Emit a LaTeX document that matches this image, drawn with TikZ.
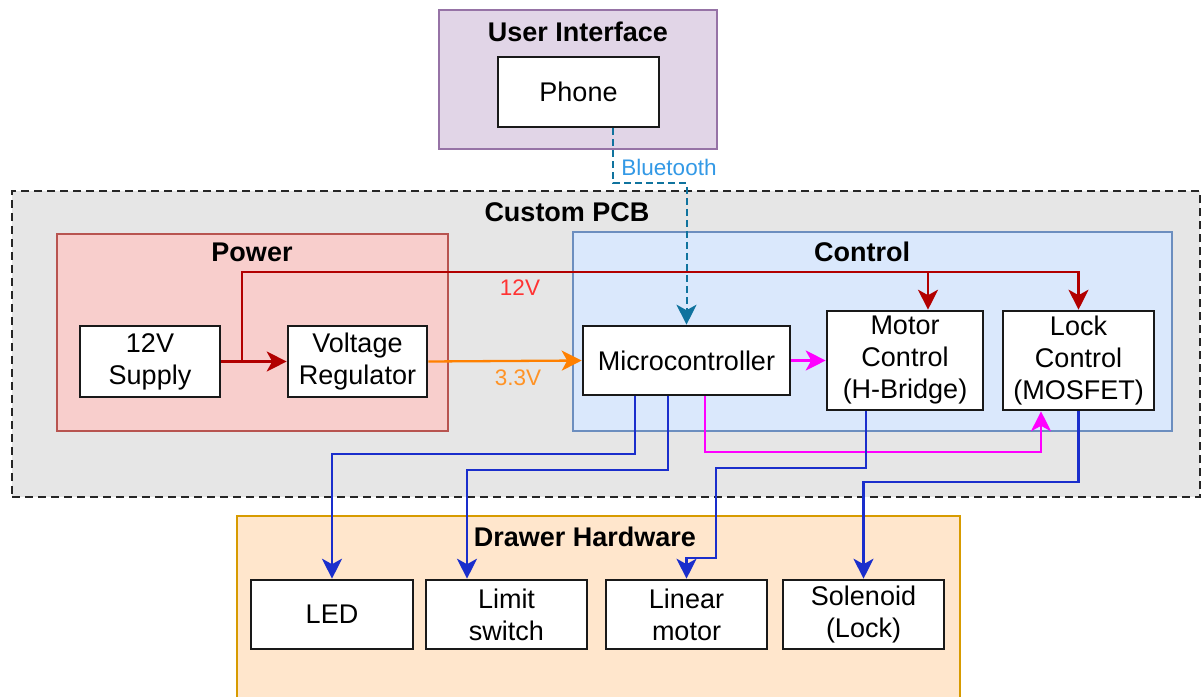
\documentclass[tikz,border=0pt]{standalone}
\usepackage{fontspec}
\setmainfont{Liberation Sans}
\usetikzlibrary{arrows.meta,calc}

\definecolor{uifill}{HTML}{E1D5E7}  \definecolor{uiline}{HTML}{9673A6}
\definecolor{pcbfill}{HTML}{E6E6E6}
\definecolor{pwrfill}{HTML}{F8CECC} \definecolor{pwrline}{HTML}{B85450}
\definecolor{ctlfill}{HTML}{DAE8FC} \definecolor{ctlline}{HTML}{6C8EBF}
\definecolor{hwfill}{HTML}{FFE6CC}  \definecolor{hwline}{HTML}{D79B00}
\definecolor{wred}{HTML}{B20000}    \definecolor{lred}{HTML}{FF3333}
\definecolor{worange}{HTML}{FF8000} \definecolor{lorange}{HTML}{FF9326}
\definecolor{wmag}{HTML}{FF00FF}
\definecolor{wblue}{HTML}{1A2ECC}
\definecolor{btline}{HTML}{10739E}  \definecolor{btlabel}{HTML}{3399E6}

\tikzset{
  blk/.style={draw=black!90, line width=2.6pt, fill=white, align=center,
    inner sep=0pt, font=\fontsize{27}{32}\selectfont},
  group/.style={line width=2pt, inner sep=0pt},
  grouptitle/.style={font=\bfseries\fontsize{27}{32}\selectfont, inner sep=0pt},
  wlabel/.style={font=\fontsize{22.5}{26}\selectfont, inner sep=0pt},
  wire/.style={line width=2.3pt, -{Stealth[length=20pt,width=20pt,inset=5.5pt]}},
}

\begin{document}
\begin{tikzpicture}[x=1pt,y=-1pt]
\useasboundingbox (0,0) rectangle (1204,696);
\clip (0,0) rectangle (1204,696);
\fill[white] (0,0) rectangle (1204,696);

% group containers
\node[group, draw=uiline, fill=uifill, minimum width=278pt, minimum height=139pt] (ui) at (578,79.5) {};
\node[group, draw=black!85, fill=pcbfill, dash pattern=on 8pt off 5pt, minimum width=1188pt, minimum height=306pt] (pcb) at (606,344) {};
\node[group, draw=pwrline, fill=pwrfill, minimum width=391pt, minimum height=197pt] (power) at (252.5,332.5) {};
\node[group, draw=ctlline, fill=ctlfill, minimum width=599pt, minimum height=199pt] (control) at (872.5,331.5) {};
\node[group, draw=hwline, fill=hwfill, minimum width=723pt, minimum height=200pt] (hw) at (598.5,616) {};

% group titles
\node[grouptitle] (uit) at (578,32) {User Interface};
\node[grouptitle] (pcbt) at (567,212) {Custom PCB};
\node[grouptitle] (powert) at (252,252) {Power};
\node[grouptitle] (controlt) at (862,252) {Control};
\node[grouptitle] (hwt) at (585,537) {Drawer Hardware};

% blocks
\node[blk, minimum width=161pt, minimum height=70pt] (phone) at (578.5,92) {Phone};
\node[blk, minimum width=140pt, minimum height=71pt] (supply) at (150,361.5) {12V\\Supply};
\node[blk, minimum width=139pt, minimum height=71pt] (reg) at (357.5,361.5) {Voltage\\Regulator};
\node[blk, minimum width=207pt, minimum height=69pt] (micro) at (686.5,360.5) {Microcontroller};
\node[blk, minimum width=156pt, minimum height=99pt] (motor) at (905,360.5) {Motor\\Control\\(H-Bridge)};
\node[blk, minimum width=151pt, minimum height=99pt] (lock) at (1078.5,360.5) {Lock\\Control\\(MOSFET)};
\node[blk, minimum width=162pt, minimum height=69pt] (led) at (332,614.5) {LED};
\node[blk, minimum width=161pt, minimum height=69pt] (limit) at (506.5,614.5) {Limit\\switch};
\node[blk, minimum width=161pt, minimum height=69pt] (linear) at (686.5,614.5) {Linear\\motor};
\node[blk, minimum width=161pt, minimum height=69pt] (sol) at (863.5,614.5) {Solenoid\\(Lock)};

% Bluetooth link
\draw[wire, btline, dash pattern=on 7pt off 4pt, line width=2pt]
  ($(phone.south)+(34.5,0)$) -- ++(0,55) -| (micro.north);
\node[wlabel, text=btlabel] (btl) at (669,167) {Bluetooth};

% 12V supply rail
\coordinate (j12) at (242,361.5);
\coordinate (rbus) at (0,272);
\draw[wire, wred] (supply.east) -- (reg.west);
\draw[wire, wred] (j12) -- (j12 |- rbus) -| (lock.north);
\draw[wire, wred] ($(motor.north |- rbus)+(23,0)$) -- ($(motor.north)+(23,0)$);
\node[wlabel, text=lred] (l12) at (520,288) {12V};

% 3.3V rail
\draw[wire, worange] (reg.east) -- (micro.west);
\node[wlabel, text=lorange] (l33) at (518,378) {3.3V};

% control signals
\draw[wire, wmag] (micro.east) -- (motor.west);
\draw[wire, wmag] ($(micro.south)+(18.5,0)$) -- ++(0,56) -| ($(lock.south)+(-37.5,0)$);

% outputs to the drawer hardware
\draw[wire, wblue] ($(micro.south)+(-51.5,0)$) -- ++(0,58) -| (led.north);
\draw[wire, wblue] ($(micro.south)+(-18.5,0)$) -- ++(0,74) -| ($(limit.north)+(-39.5,0)$);
\draw[wire, wblue] ($(motor.south)+(-39,0)$) -- ++(0,57) -- ++(-150,0) -- ++(0,90) -| (linear.north);
\draw[wire, wblue] (lock.south) -- ++(0,71) -| (sol.north);
\end{tikzpicture}
\end{document}
